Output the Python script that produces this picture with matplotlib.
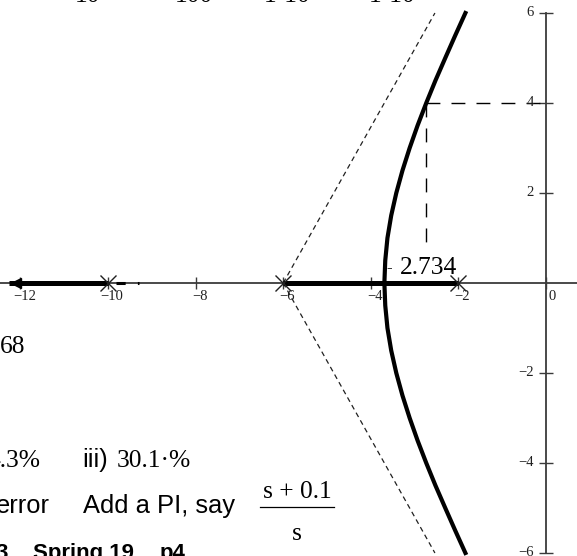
import matplotlib
matplotlib.use("Agg")
import matplotlib.pyplot as plt
from matplotlib.lines import Line2D

# ---- data ----
poles = [-10, -6, -2]
branch_w = [0, 0.5, 1, 1.5, 2, 2.5, 3, 3.5, 4, 4.5, 5, 5.5, 6]
branch_s = [-3.69, -3.67, -3.62, -3.534, -3.418, -3.277, -3.113, -2.932,
            -2.734, -2.524, -2.30, -2.073, -1.84]
real_seg_left = [-12.25, -10]
real_seg_mid = [-6, -2]
asym_x = [-6, -2.536]
asym_y = [0, 6]
marker_x = -2.734
marker_y = 4
marker_drop = 0.75
end_marker_x = -12.1
small_dash_x = [-9.82, -9.3]
xticks = [-12, -10, -8, -6, -4, -2, 0]
xtick_labels = ["\u221212", "\u221210", "\u22128", "\u22126", "\u22124", "\u22122", "0"]
yticks = [-6, -4, -2, 2, 4, 6]
ytick_labels = ["\u22126", "\u22124", "\u22122", "2", "4", "6"]

W, H = 577, 556
fig = plt.figure(figsize=(W / 100, H / 100), dpi=100)
ax = fig.add_axes([0, 0, 1, 1])
px_x, px_y = 43.8, 45.0
x0, y0 = 546, 283
ax.set_xlim(-x0 / px_x, (W - x0) / px_x)
ax.set_ylim(-(H - y0) / px_y, y0 / px_y)
ax.axis("off")

axc = "#3a3a3a"
xl = ax.get_xlim()
ax.plot(xl, [0, 0], color=axc, lw=1.3, zorder=1)
ax.plot([0, 0], [-6, 6], color=axc, lw=1.3, zorder=1)
ax.plot(xticks, [0] * len(xticks), ls="none", marker="|", ms=9, mew=1.0, color=axc, zorder=1)
ax.plot([0] * len(yticks), yticks, ls="none", marker="_", ms=10, mew=1.0, color=axc, zorder=1)

lab_font = dict(family="Liberation Serif", size=10.5, color="#202020")
for t, s in zip(xticks, xtick_labels):
    dx = 6 if t == 0 else 4
    ax.annotate(s, (t, 0), xytext=(dx, -7), textcoords="offset pixels",
                ha="center", va="top", **lab_font)
for t, s in zip(yticks, ytick_labels):
    ax.annotate(s, (0, t), xytext=(-12, 0), textcoords="offset pixels",
                ha="right", va="center", **lab_font)

# asymptotes
for sgn in (1, -1):
    ax.plot(asym_x, [sgn * v for v in asym_y], color="#202020", lw=0.9,
            dashes=(4, 3), zorder=2)

# real-axis locus
ax.plot(real_seg_left, [0, 0], color="black", lw=3.6, solid_capstyle="butt", zorder=3)
ax.plot(real_seg_mid, [0, 0], color="black", lw=3.6, solid_capstyle="butt", zorder=3)
ax.plot(small_dash_x, [0, 0], color="black", lw=2.2, dashes=(3, 4), zorder=3)

# complex branches
ax.plot(branch_s, branch_w, color="black", lw=3.0, zorder=3)
ax.plot(branch_s, [-w for w in branch_w], color="black", lw=3.0, zorder=3)

# pole markers
ax.plot(poles, [0] * len(poles), ls="none", marker="x", ms=12, mew=1.0, color="#202020", zorder=4)
ax.plot([end_marker_x], [0], ls="none", marker="<", ms=7, color="black", zorder=4)

# marker lines
ax.plot([marker_x, 0], [marker_y, marker_y], color="black", lw=1.0, dashes=(10, 8), zorder=2)
ax.plot([marker_x, marker_x], [marker_y, marker_drop], color="black", lw=1.0, dashes=(10, 8), zorder=2)

serif = "Liberation Serif"
sans = "Liberation Sans"
fs = 18.4


def ftext(x, y, s, family, size=fs, weight="normal", ha="left"):
    fig.text(x / W, 1 - y / H, s, family=family, size=size, weight=weight,
             ha=ha, va="baseline", color="black")


ftext(400, 274, "2.734", serif)
ftext(386, 272, "-", serif, size=12)

# partial texts from the surrounding document
ftext(88, 2, "10", serif, ha="center")
ftext(194, 2, "100", serif, ha="center")
ftext(287, 2, "1\u00b710", serif, ha="center")
ftext(392, 2, "1\u00b710", serif, ha="center")
ftext(0, 353, "68", serif)
ftext(-12, 467, "4.3%", serif)
ftext(82, 467, "iii)", sans)
ftext(117, 467, "30.1\u00b7%", serif)
ftext(-4, 513, "error", sans)
ftext(83, 513, "Add a PI, say", sans)
ftext(297, 498, "s + 0.1", serif, ha="center")
ftext(297, 540, "s", serif, ha="center")
fig.add_artist(Line2D([260 / W, 334 / W], [1 - 507 / H] * 2, color="black", lw=0.9,
                      transform=fig.transFigure))
ftext(-5, 559, "3", sans, size=16, weight="bold")
ftext(33, 559, "Spring 19", sans, size=16, weight="bold")
ftext(160, 559, "p4", sans, size=16, weight="bold")

fig.savefig("out.png", dpi=100)
